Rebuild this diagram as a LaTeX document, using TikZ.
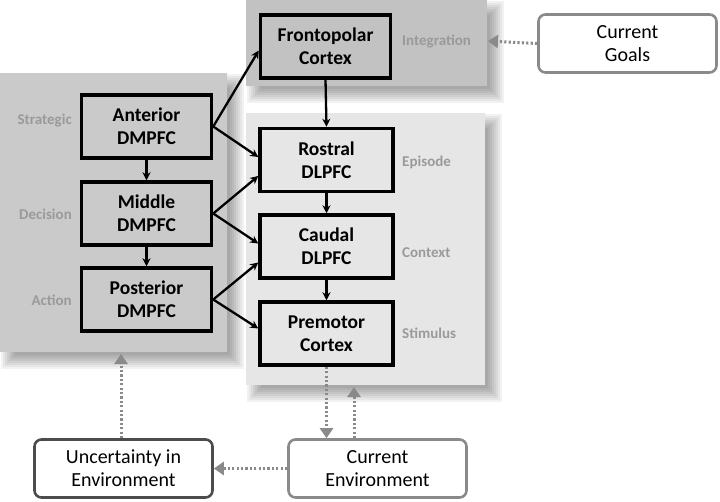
\documentclass[tikz,border=0pt]{standalone}
\usepackage{fontspec}
\setmainfont{Carlito}
\usetikzlibrary{arrows.meta,calc}
\definecolor{panelA}{HTML}{CACACA}
\definecolor{panelB}{HTML}{C2C2C2}
\definecolor{panelC}{HTML}{E6E6E6}
\definecolor{lbl}{HTML}{9A9A9A}
\definecolor{dotg}{HTML}{8A8A8A}
\newcommand{\softshadow}[4]{%
  \foreach \r in {-6,-4,...,8}{%
    \fill[black,opacity=0.05] ({#1+9-\r},{#2+9-\r}) rectangle ({#3+9+\r},{#4+9+\r});}}
\tikzset{
  region/.style={draw=none,font=\bfseries\fontsize{19.5}{23}\selectfont,align=center,line width=3.5pt},
  brbox/.style={region,draw=black,minimum width=130pt,minimum height=63pt,inner sep=2pt},
  envbox/.style={draw=dotg,line width=2.6pt,rounded corners=7pt,fill=white,minimum width=178pt,minimum height=58pt,align=center,font=\fontsize{20}{23}\selectfont},
  sidelbl/.style={text=lbl,font=\bfseries\fontsize{15}{18}\selectfont,inner sep=0pt},
  solidarr/.style={line width=2.3pt,-{Stealth[length=8pt,width=8pt]}},
  dotarr/.style={dotg,line width=3pt,dash pattern=on 2.2pt off 2.2pt,-{Triangle[length=10pt,width=13pt]}}
}
\begin{document}
\begin{tikzpicture}[x=1pt,y=-1pt]
\useasboundingbox (0,0) rectangle (720,501);
% shadows
\softshadow{0}{73}{227}{352}
\softshadow{246}{0}{487}{86}
\softshadow{246}{113}{485}{385}
% panels
\fill[panelA] (0,73) rectangle (227,352);
\fill[panelB] (246,0) rectangle (487,86);
\fill[panelC] (246,113) rectangle (485,385);
% region boxes
\node[brbox] (ant) at (146.5,126.5) {Anterior\\DMPFC};
\node[brbox] (mid) at (146.5,213.5) {Middle\\DMPFC};
\node[brbox] (post) at (146.5,299.5) {Posterior\\DMPFC};
\node[brbox] (fp) at (325.5,46.5) {Frontopolar\\Cortex};
\node[brbox,minimum width=133pt] (ros) at (326.5,160) {Rostral\\DLPFC};
\node[brbox,minimum width=133pt] (cau) at (326.5,246.5) {Caudal\\DLPFC};
\node[brbox,minimum width=133pt] (pre) at (326.5,333.5) {Premotor\\Cortex};
% side labels
\node[sidelbl,anchor=east] (lstr) at (72,121) {Strategic};
\node[sidelbl,anchor=east] (ldec) at (72,214) {Decision};
\node[sidelbl,anchor=east] (lact) at (72,300) {Action};
\node[sidelbl,anchor=west] (lint) at (402,41) {Integration};
\node[sidelbl,anchor=west] (lepi) at (402,162) {Episode};
\node[sidelbl,anchor=west] (lcon) at (402,253) {Context};
\node[sidelbl,anchor=west] (lsti) at (402,333) {Stimulus};
% environment boxes
\node[envbox] (goals) at (627.5,43.5) {Current\\Goals};
\node[envbox,draw=black!70] (unc) at (123.5,468.5) {Uncertainty in\\Environment};
\node[envbox] (cenv) at (377.5,468.5) {Current\\Environment};
% panel anchor coordinates
\coordinate (topR) at (488,41);
\coordinate (leftB) at (121,354);
\coordinate (rightB) at (354,387);
% solid arrows
\draw[solidarr] (ant.east) -- ($(fp.west)+(0,4)$);
\draw[solidarr] (ant.east) -- ($(ros.west)+(0,-3)$);
\draw[solidarr] (mid.east) -- ($(ros.west)+(0,16)$);
\draw[solidarr] (mid.east) -- ($(cau.west)+(0,-3)$);
\draw[solidarr] (post.east) -- ($(cau.west)+(0,16)$);
\draw[solidarr] (post.east) -- ($(pre.west)+(0,-5)$);
\draw[solidarr] (ant.south) -- (mid.north);
\draw[solidarr] (mid.south) -- (post.north);
\draw[solidarr] (fp.south) -- (ros.north);
\draw[solidarr] (ros.south) -- (cau.north);
\draw[solidarr] (cau.south) -- (pre.north);
% dotted arrows
\draw[dotarr] (goals.west) -- (topR);
\draw[dotarr] (cenv.west) -- (unc.east);
\draw[dotarr] (unc.north -| leftB) -- (leftB);
\draw[dotarr] (pre.south) -- (cenv.north -| pre.south);
\draw[dotarr] (cenv.north -| rightB) -- (rightB);
\end{tikzpicture}
\end{document}
